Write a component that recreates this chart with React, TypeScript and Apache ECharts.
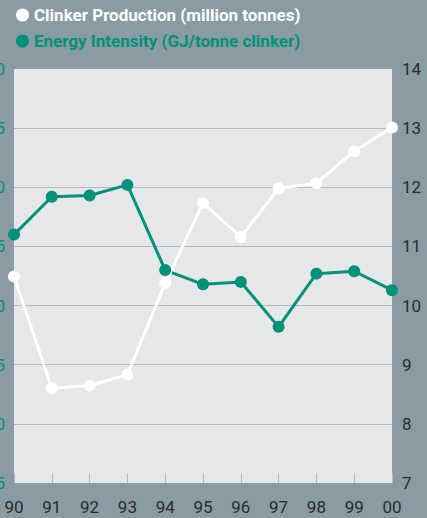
import React, { useEffect, useRef } from "react";
import * as echarts from "echarts";

const years = ["90", "91", "92", "93", "94", "95", "96", "97", "98", "99", "00"];
const clinkerProduction = [10.49, 8.6, 8.65, 8.83, 10.38, 11.73, 11.16, 11.98, 12.07, 12.61, 13.01];
const energyIntensity = [3.6, 3.92, 3.93, 4.02, 3.3, 3.18, 3.2, 2.82, 3.27, 3.29, 3.13];

const SERIES_PROD = "Clinker Production (million tonnes)";
const SERIES_ENERGY = "Energy Intensity (GJ/tonne clinker)";

const TEAL = "#00917a";
const BG = "#8a9ba4";
const PLOT_BG = "#e6e7e9";
const GRID = "#b6b9bc";
const DARK = "#2a2a2a";
const FONT = "Roboto, sans-serif";

export default function App() {
  const ref = useRef<HTMLDivElement>(null);
  useEffect(() => {
    if (!ref.current) return;
    const chart = echarts.init(ref.current, null, { renderer: "svg" });
    chart.setOption({
      animation: false,
      backgroundColor: BG,
      legend: {
        orient: "vertical",
        left: 11,
        top: 1,
        itemGap: 8,
        itemWidth: 13,
        itemHeight: 13,
        icon: "circle",
        textStyle: { fontFamily: FONT, fontSize: 17, fontWeight: "bold", lineHeight: 18 },
        data: [
          { name: SERIES_PROD, textStyle: { color: "#ffffff" }, itemStyle: { color: "#ffffff" } },
          { name: SERIES_ENERGY, textStyle: { color: TEAL }, itemStyle: { color: TEAL } },
        ],
        selectedMode: false,
      },
      grid: {
        left: 14,
        right: 35,
        top: 69,
        bottom: 35,
        show: true,
        backgroundColor: PLOT_BG,
        borderWidth: 0,
        containLabel: false,
        outerBoundsMode: "none",
      },
      xAxis: {
        type: "category",
        data: years,
        boundaryGap: false,
        axisLine: { show: false },
        axisTick: { show: true, inside: true, length: 10, lineStyle: { color: GRID } },
        axisLabel: { color: DARK, fontFamily: FONT, fontSize: 17, margin: 15 },
      },
      yAxis: [
        {
          type: "value",
          position: "left",
          min: 1.5,
          max: 5,
          interval: 0.5,
          axisLine: { show: false },
          axisTick: { show: false },
          splitLine: { show: false },
          axisLabel: {
            color: TEAL,
            fontFamily: FONT,
            fontSize: 17,
            margin: 9,
            formatter: (v: number) => v.toFixed(1),
          },
        },
        {
          type: "value",
          position: "right",
          min: 7,
          max: 14,
          interval: 1,
          axisLine: { show: false },
          axisTick: { show: false },
          splitLine: { show: true, showMinLine: false, showMaxLine: false, lineStyle: { color: GRID, width: 1 } },
          axisLabel: { color: DARK, fontFamily: FONT, fontSize: 17, margin: 10 },
        },
      ],
      series: [
        {
          name: SERIES_ENERGY,
          type: "line",
          yAxisIndex: 0,
          data: energyIntensity,
          symbol: "circle",
          symbolSize: 12,
          lineStyle: { color: TEAL, width: 3 },
          itemStyle: { color: TEAL },
        },
        {
          name: SERIES_PROD,
          type: "line",
          yAxisIndex: 1,
          data: clinkerProduction,
          symbol: "circle",
          symbolSize: 12,
          lineStyle: { color: "#ffffff", width: 3 },
          itemStyle: { color: "#ffffff" },
        },
      ],
    });
    return () => chart.dispose();
  }, []);
  return (
    <div
      ref={ref}
      style={{ position: "fixed", left: 0, top: 0, width: 427, height: 518 }}
    />
  );
}
